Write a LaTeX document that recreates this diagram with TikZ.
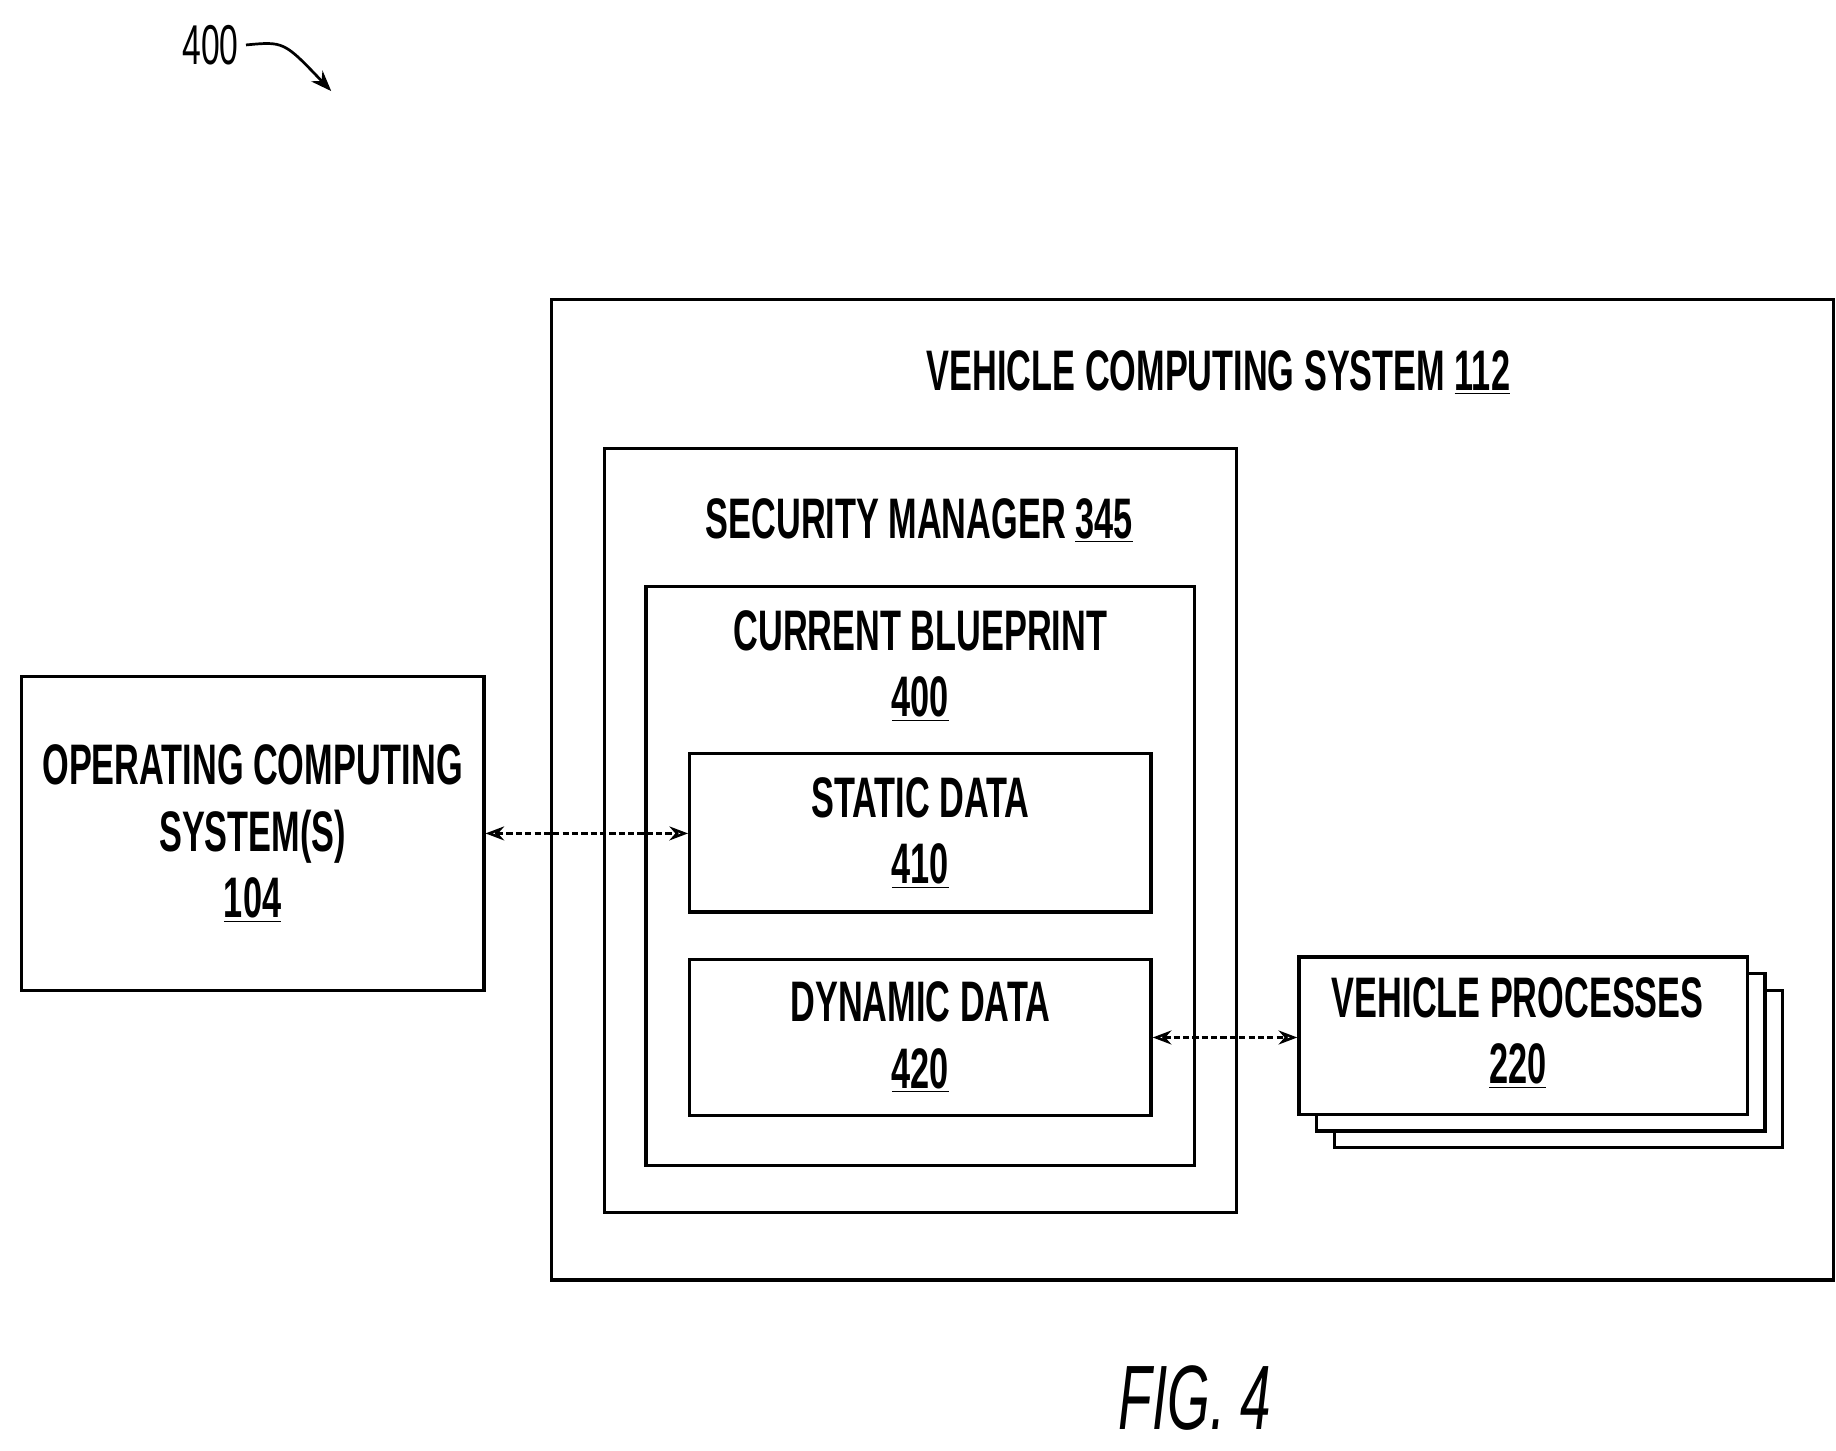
\documentclass[tikz,border=0pt]{standalone}
\usepackage{fontspec}
\setmainfont[FakeStretch=0.6]{Liberation Sans}
\usetikzlibrary{arrows.meta,fit}
\begin{document}
\begin{tikzpicture}[x=0.02cm,y=-0.02cm,
 box/.style={draw,line width=1.6pt,fill=white,inner sep=0pt},
 lbl/.style={font=\fontsize{27.5}{32}\bfseries\selectfont,align=center},
 arr/.style={line width=1.2pt,dash pattern=on 3pt off 1.5pt,{Stealth[open,length=9pt]}-{Stealth[open,length=9pt]}}]
\useasboundingbox (0,0) rectangle (1552,1226);
\node[box,fit={(466,253)(1550,1082)}] (vcsb) {};
\node[lbl] (vcs) at (1030,315) {VEHICLE COMPUTING SYSTEM \underline{112}};
\node[box,fit={(511,379)(1045,1025)}] (smb) {};
\node[lbl] (sm) at (777,440) {SECURITY MANAGER \underline{345}};
\node[box,fit={(546,496)(1010,985)}] (cbb) {};
\node[lbl] (cb) at (778,563) {CURRENT BLUEPRINT\\\underline{400}};
\node[box,fit={(583,637)(973,771)}] (sd) {};
\node[lbl] at (sd) {STATIC DATA\\\underline{410}};
\node[box,fit={(583,811)(973,943)}] (dd) {};
\node[lbl] at (dd) {DYNAMIC DATA\\\underline{420}};
\node[box,fit={(18,572)(409,837)}] (op) {};
\node[lbl] at (op) {OPERATING COMPUTING\\SYSTEM(S)\\\underline{104}};
\node[box,fit={(1128,837)(1507,970)}] (vp3) {};
\node[box,fit={(1113,823)(1492,956)}] (vp2) {};
\node[box,fit={(1098,809)(1477,942)}] (vp) {};
\node[lbl] at (1283,873) {VEHICLE PROCESSES\\\underline{220}};
\draw[arr] (op.east) -- (sd.west|-op.east);
\draw[arr] (dd.east) -- (vp.west|-dd.east);
\node[lbl,font=\fontsize{27}{30}\selectfont] (n400) at (178,38) {400};
\coordinate (t400) at (280,77);
\draw[line width=1.3pt,-{Stealth[length=10pt]}] (n400.east) .. controls (240,35) .. (t400);
\node[font=\fontsize{44}{48}\selectfont\itshape] (fig) at (1010,1182) {FIG. 4};
\end{tikzpicture}
\end{document}
